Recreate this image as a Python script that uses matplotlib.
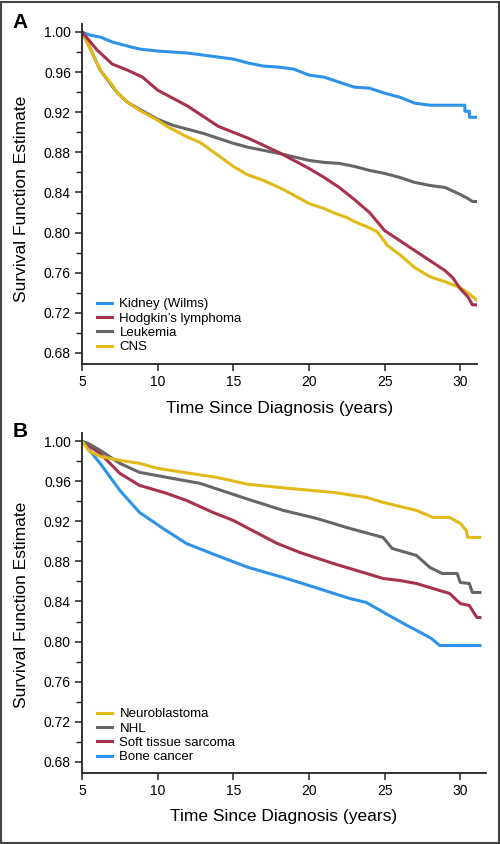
import matplotlib
matplotlib.use("Agg")
import matplotlib.pyplot as plt
from matplotlib.patches import Rectangle

# ---------------- Panel A data ----------------
kidney_t = [5, 5.5, 6.2, 7, 8, 8.8, 10, 11, 12, 13, 14, 15, 16, 17, 18, 19, 20, 21, 22, 23, 24, 25, 26, 27, 28, 29, 30.3, 30.3, 30.6, 30.6, 31.15]
kidney_v = [1.0, 0.997, 0.995, 0.990, 0.986, 0.983, 0.981, 0.980, 0.979, 0.977, 0.975, 0.973, 0.969, 0.966, 0.965, 0.963, 0.957, 0.955, 0.950, 0.945, 0.944, 0.939, 0.935, 0.929, 0.927, 0.927, 0.927, 0.921, 0.921, 0.915, 0.915]

hodgkin_t = [5, 6, 7, 8, 9, 10, 11, 12, 13, 14, 15, 16, 17, 18, 19, 20, 21, 22, 23, 24, 25, 26, 27, 28, 29, 29.5, 30, 30.5, 30.8, 31.15]
hodgkin_v = [1.0, 0.982, 0.968, 0.962, 0.955, 0.942, 0.934, 0.926, 0.916, 0.906, 0.900, 0.894, 0.887, 0.880, 0.872, 0.864, 0.855, 0.845, 0.833, 0.820, 0.802, 0.792, 0.782, 0.772, 0.762, 0.755, 0.744, 0.736, 0.728, 0.728]

leukemia_t = [5, 5.5, 6.2, 7, 7.3, 8, 8.8, 10, 11, 12, 13, 14, 15, 16, 17, 18.3, 20, 21, 22, 23, 24, 25, 26, 27, 28, 29, 30, 30.5, 30.8, 31.15]
leukemia_v = [1.0, 0.985, 0.962, 0.946, 0.940, 0.930, 0.923, 0.913, 0.907, 0.903, 0.899, 0.894, 0.889, 0.885, 0.882, 0.878, 0.872, 0.870, 0.869, 0.866, 0.862, 0.859, 0.855, 0.850, 0.847, 0.845, 0.838, 0.834, 0.831, 0.831]

cns_t = [5, 5.5, 6.2, 7, 7.3, 8, 8.8, 10, 10.6, 12, 12.8, 14, 15, 15.9, 17, 18.3, 19.4, 20, 21, 21.6, 22.5, 23, 23.8, 24.5, 25.2, 26, 27, 28, 29, 30, 30.5, 31.15]
cns_v = [1.0, 0.985, 0.962, 0.947, 0.940, 0.930, 0.922, 0.912, 0.906, 0.895, 0.890, 0.877, 0.866, 0.858, 0.852, 0.843, 0.834, 0.829, 0.824, 0.820, 0.815, 0.811, 0.806, 0.801, 0.787, 0.778, 0.765, 0.756, 0.751, 0.745, 0.740, 0.732]

# ---------------- Panel B data ----------------
neuro_t = [5, 5.5, 6.2, 7.5, 8.8, 10, 11.7, 13.9, 16, 18, 19.4, 21.6, 23.8, 24.9, 26, 27.1, 28.2, 29.3, 30, 30.4, 30.5, 31.3]
neuro_v = [1.0, 0.99, 0.985, 0.981, 0.978, 0.973, 0.969, 0.964, 0.957, 0.954, 0.952, 0.949, 0.944, 0.939, 0.935, 0.931, 0.924, 0.924, 0.918, 0.911, 0.904, 0.904]

nhl_t = [5, 5.4, 6.2, 7.5, 8.8, 10.6, 12.8, 14.6, 16, 18.3, 20.5, 22.7, 24.9, 25.5, 27.1, 28, 28.8, 29.8, 30, 30.6, 30.8, 31.3]
nhl_v = [1.0, 0.998, 0.991, 0.978, 0.969, 0.964, 0.958, 0.949, 0.942, 0.931, 0.923, 0.913, 0.904, 0.893, 0.886, 0.874, 0.868, 0.868, 0.859, 0.858, 0.849, 0.849]

soft_t = [5, 6.2, 7.5, 8.8, 10.6, 11.9, 13.65, 15, 16, 17.9, 19.4, 21.6, 23.8, 24.9, 26, 27.1, 28.2, 29.3, 30, 30.6, 31.1, 31.3]
soft_v = [1.0, 0.988, 0.968, 0.956, 0.948, 0.941, 0.929, 0.921, 0.913, 0.898, 0.889, 0.878, 0.868, 0.863, 0.861, 0.858, 0.853, 0.848, 0.838, 0.836, 0.824, 0.824]

bone_t = [5, 5.5, 6.2, 7.5, 8.8, 10.35, 11.9, 13.9, 16, 18.3, 20, 22.7, 23.8, 25.3, 26.5, 27.5, 28.1, 28.65, 31.3]
bone_v = [1.0, 0.991, 0.978, 0.951, 0.929, 0.913, 0.898, 0.886, 0.874, 0.864, 0.856, 0.843, 0.839, 0.826, 0.816, 0.808, 0.803, 0.796, 0.796]

y_ticks = [0.68, 0.72, 0.76, 0.80, 0.84, 0.88, 0.92, 0.96, 1.00]
x_ticks = [5, 10, 15, 20, 25, 30]

BLUE = "#2E93E8"
RED = "#A8324C"
GRAY = "#666666"
YELLOW = "#E2B919"

plt.rcParams['font.family'] = ['Liberation Sans', 'DejaVu Sans']

fig = plt.figure(figsize=(5.0, 8.44), dpi=100)

def style_axes(ax, xmax):
    ax.set_xlim(5, xmax)
    ax.set_ylim(0.669, 1.008)
    for s in ['top', 'right']:
        ax.spines[s].set_visible(False)
    for s in ['left', 'bottom']:
        ax.spines[s].set_linewidth(1.3)
        ax.spines[s].set_color('#222222')
    ax.set_yticks(y_ticks)
    ax.set_yticklabels([f"{v:.2f}" for v in y_ticks])
    ax.set_yticks([0.70, 0.74, 0.78, 0.82, 0.86, 0.90, 0.94, 0.98], minor=True)
    ax.set_xticks(x_ticks)
    ax.tick_params(axis='both', which='major', length=5, width=1.1, labelsize=10, color='#222222', pad=3)
    ax.tick_params(axis='y', which='minor', length=4, width=1.0, color='#222222')
    ax.set_xlabel("Time Since Diagnosis (years)", fontsize=12.5)
    ax.set_ylabel("Survival Function Estimate", fontsize=12.5)
    ax.xaxis.set_label_coords(0.5, -0.108)

lw = 2.2
axA = fig.add_axes([0.164, 0.5687, 0.789, 0.4029])
axA.plot(kidney_t, kidney_v, color=BLUE, lw=lw, label="Kidney (Wilms)")
axA.plot(leukemia_t, leukemia_v, color=GRAY, lw=lw, label="Leukemia")
axA.plot(cns_t, cns_v, color=YELLOW, lw=lw, label="CNS")
axA.plot(hodgkin_t, hodgkin_v, color=RED, lw=lw, label="Hodgkin’s lymphoma")
style_axes(axA, 31.07)
axA.yaxis.set_label_coords(-(82 - 29) / 394.5, (364 - 199) / 340)
h, l = axA.get_legend_handles_labels()
order = [0, 3, 1, 2]
axA.legend([h[i] for i in order], [l[i] for i in order], loc='upper left',
           bbox_to_anchor=(97/500, 1 - 298/844), bbox_transform=fig.transFigure,
           frameon=False, fontsize=9.5, handlelength=1.15, handletextpad=0.55,
           labelspacing=0.16, borderpad=0, borderaxespad=0)

axB = fig.add_axes([0.164, 0.0845, 0.807, 0.4021])
axB.plot(bone_t, bone_v, color=BLUE, lw=lw, label="Bone cancer")
axB.plot(soft_t, soft_v, color=RED, lw=lw, label="Soft tissue sarcoma")
axB.plot(nhl_t, nhl_v, color=GRAY, lw=lw, label="NHL")
axB.plot(neuro_t, neuro_v, color=YELLOW, lw=lw, label="Neuroblastoma")
style_axes(axB, 31.67)
axB.yaxis.set_label_coords(-(82 - 29) / 403.5, (772.7 - 605) / 339.4)
h, l = axB.get_legend_handles_labels()
order = [3, 2, 1, 0]
axB.legend([h[i] for i in order], [l[i] for i in order], loc='upper left',
           bbox_to_anchor=(97/500, 1 - 708/844), bbox_transform=fig.transFigure,
           frameon=False, fontsize=9.5, handlelength=1.15, handletextpad=0.55,
           labelspacing=0.16, borderpad=0, borderaxespad=0)

fig.text(20/500, 1 - 22/844, "A", fontsize=15, fontweight='bold', ha='center', va='center')
fig.text(20/500, 1 - 432/844, "B", fontsize=15, fontweight='bold', ha='center', va='center')

fig.add_artist(Rectangle((0.002, 0.001), 0.996, 0.997, transform=fig.transFigure,
                         fill=False, edgecolor='#444444', lw=1.5))

fig.savefig("out.png", dpi=100)
